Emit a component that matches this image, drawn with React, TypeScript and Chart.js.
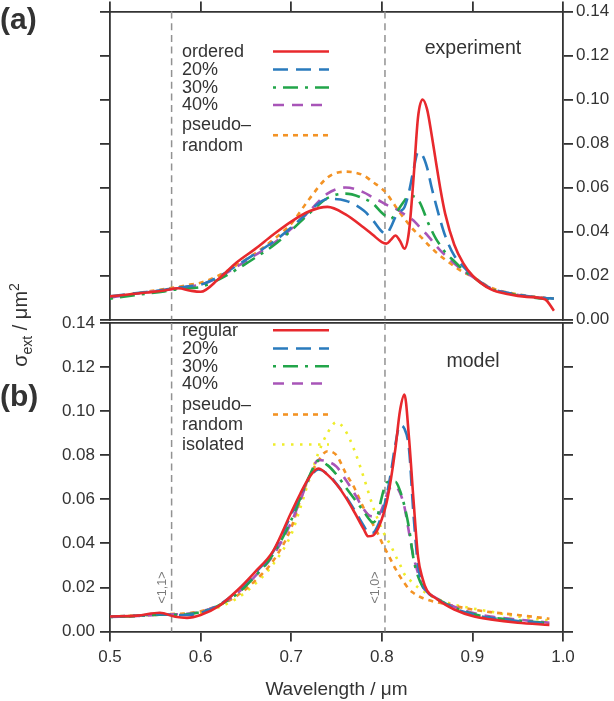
import React, { useEffect, useRef } from 'react';
import { Chart, registerables } from 'chart.js';

Chart.register(...registerables);

// ---------- data: panel (a) experiment ----------
const WL_TOP = [
  0.500, 0.530, 0.560, 0.575, 0.590, 0.600, 0.620, 0.640, 0.660, 0.680,
  0.700, 0.720, 0.740, 0.760, 0.780, 0.790, 0.800, 0.805, 0.810, 0.815,
  0.820, 0.825, 0.830, 0.835, 0.840, 0.845, 0.850, 0.855, 0.860, 0.865,
  0.870, 0.880, 0.890, 0.900, 0.920, 0.940, 0.960, 0.980, 0.990,
];
const EXP_ORDERED = [
  0.0105, 0.0118, 0.0132, 0.0142, 0.0130, 0.0126, 0.0185, 0.0260, 0.0320, 0.0385,
  0.0445, 0.0492, 0.0512, 0.0478, 0.0418, 0.0385, 0.0352, 0.0345, 0.0362, 0.0382,
  0.0358, 0.0322, 0.0400, 0.0640, 0.0920, 0.1000, 0.0955, 0.0840, 0.0710, 0.0585,
  0.0480, 0.0340, 0.0255, 0.0200, 0.0138, 0.0115, 0.0103, 0.0092, 0.0040,
];
const EXP_20 = [
  0.0105, 0.0120, 0.0135, 0.0145, 0.0152, 0.0158, 0.0195, 0.0245, 0.0298, 0.0352,
  0.0418, 0.0492, 0.0548, 0.0540, 0.0495, 0.0452, 0.0400, 0.0388, 0.0420, 0.0465,
  0.0490, 0.0510, 0.0580, 0.0680, 0.0760, 0.0745, 0.0690, 0.0600, 0.0520, 0.0445,
  0.0380, 0.0290, 0.0240, 0.0200, 0.0142, 0.0120, 0.0107, 0.0098, 0.0095,
];
const EXP_30 = [
  0.0095, 0.0112, 0.0128, 0.0138, 0.0143, 0.0148, 0.0182, 0.0228, 0.0280, 0.0335,
  0.0405, 0.0482, 0.0552, 0.0572, 0.0550, 0.0528, 0.0485, 0.0468, 0.0458, 0.0480,
  0.0510, 0.0540, 0.0563, 0.0560, 0.0545, 0.0505, 0.0450, 0.0405, 0.0365, 0.0335,
  0.0305, 0.0265, 0.0225, 0.0195, 0.0140, 0.0118, 0.0104, 0.0094, 0.0092,
];
const EXP_40 = [
  0.0100, 0.0118, 0.0133, 0.0142, 0.0152, 0.0158, 0.0192, 0.0240, 0.0292, 0.0345,
  0.0412, 0.0492, 0.0572, 0.0600, 0.0578, 0.0555, 0.0534, 0.0522, 0.0512, 0.0504,
  0.0492, 0.0478, 0.0465, 0.0450, 0.0428, 0.0405, 0.0385, 0.0360, 0.0335, 0.0312,
  0.0292, 0.0255, 0.0222, 0.0195, 0.0142, 0.0120, 0.0106, 0.0097, 0.0095,
];
const EXP_PSEUDO = [
  0.0100, 0.0120, 0.0138, 0.0148, 0.0160, 0.0167, 0.0200, 0.0248, 0.0300, 0.0362,
  0.0435, 0.0548, 0.0645, 0.0672, 0.0655, 0.0625, 0.0595, 0.0575, 0.0545, 0.0515,
  0.0485, 0.0458, 0.0432, 0.0408, 0.0388, 0.0368, 0.0345, 0.0325, 0.0305, 0.0288,
  0.0272, 0.0242, 0.0215, 0.0195, 0.0145, 0.0122, 0.0108, 0.0099, 0.0096,
];

// ---------- data: panel (b) model ----------
const WL_BOT = [
  0.500, 0.530, 0.555, 0.572, 0.585, 0.600, 0.620, 0.640, 0.660, 0.680,
  0.700, 0.710, 0.720, 0.730, 0.740, 0.750, 0.760, 0.770, 0.780, 0.785,
  0.790, 0.795, 0.800, 0.805, 0.810, 0.815, 0.820, 0.825, 0.830, 0.835,
  0.840, 0.845, 0.850, 0.860, 0.870, 0.880, 0.900, 0.920, 0.950, 0.985,
];
const MOD_REGULAR = [
  0.0068, 0.0072, 0.0085, 0.0067, 0.0062, 0.0075, 0.0115, 0.0185, 0.0270, 0.0365,
  0.0540, 0.0625, 0.0700, 0.0740, 0.0712, 0.0668, 0.0610, 0.0540, 0.0465, 0.0432,
  0.0435, 0.0460, 0.0510, 0.0580, 0.0690, 0.0830, 0.1000, 0.1075, 0.0880, 0.0596,
  0.0340, 0.0240, 0.0185, 0.0150, 0.0122, 0.0100, 0.0070, 0.0055, 0.0040, 0.0030,
];
const MOD_20 = [
  0.0068, 0.0072, 0.0078, 0.0075, 0.0075, 0.0085, 0.0120, 0.0182, 0.0265, 0.0362,
  0.0530, 0.0620, 0.0695, 0.0735, 0.0715, 0.0670, 0.0615, 0.0550, 0.0480, 0.0450,
  0.0448, 0.0475, 0.0530, 0.0610, 0.0720, 0.0850, 0.0935, 0.0920, 0.0830, 0.0530,
  0.0300, 0.0215, 0.0180, 0.0148, 0.0125, 0.0105, 0.0078, 0.0062, 0.0048, 0.0035,
];
const MOD_30 = [
  0.0066, 0.0070, 0.0076, 0.0076, 0.0078, 0.0088, 0.0118, 0.0170, 0.0250, 0.0350,
  0.0505, 0.0605, 0.0705, 0.0775, 0.0755, 0.0712, 0.0655, 0.0600, 0.0545, 0.0515,
  0.0495, 0.0520, 0.0610, 0.0675, 0.0680, 0.0680, 0.0640, 0.0570, 0.0470, 0.0330,
  0.0250, 0.0205, 0.0180, 0.0150, 0.0128, 0.0108, 0.0080, 0.0064, 0.0050, 0.0038,
];
const MOD_40 = [
  0.0066, 0.0070, 0.0076, 0.0078, 0.0080, 0.0090, 0.0120, 0.0172, 0.0250, 0.0345,
  0.0495, 0.0595, 0.0700, 0.0778, 0.0772, 0.0748, 0.0690, 0.0625, 0.0555, 0.0530,
  0.0522, 0.0522, 0.0555, 0.0615, 0.0655, 0.0658, 0.0630, 0.0565, 0.0450, 0.0340,
  0.0265, 0.0205, 0.0180, 0.0152, 0.0130, 0.0112, 0.0085, 0.0068, 0.0054, 0.0040,
];
const MOD_PSEUDO = [
  0.0068, 0.0072, 0.0078, 0.0080, 0.0082, 0.0092, 0.0118, 0.0162, 0.0230, 0.0320,
  0.0470, 0.0596, 0.0700, 0.0775, 0.0818, 0.0800, 0.0720, 0.0650, 0.0560, 0.0525,
  0.0488, 0.0450, 0.0405, 0.0365, 0.0325, 0.0285, 0.0250, 0.0220, 0.0192, 0.0175,
  0.0162, 0.0152, 0.0145, 0.0133, 0.0125, 0.0116, 0.0100, 0.0088, 0.0075, 0.0058,
];
const MOD_ISOLATED = [
  0.0068, 0.0072, 0.0076, 0.0078, 0.0080, 0.0085, 0.0110, 0.0150, 0.0215, 0.0305,
  0.0440, 0.0560, 0.0690, 0.0810, 0.0900, 0.0950, 0.0910, 0.0820, 0.0700, 0.0635,
  0.0570, 0.0515, 0.0465, 0.0425, 0.0390, 0.0345, 0.0305, 0.0260, 0.0238, 0.0218,
  0.0200, 0.0185, 0.0172, 0.0150, 0.0135, 0.0122, 0.0105, 0.0090, 0.0068, 0.0050,
];

// ---------- labels / axis ----------
const LEGEND_TOP = ['ordered', '20%', '30%', '40%', 'pseudo–\nrandom'];
const LEGEND_BOT = ['regular', '20%', '30%', '40%', 'pseudo–\nrandom', 'isolated'];
const X_RANGE = [0.5, 1.0];
const Y_RANGE = [0, 0.14];
const X_STEP = 0.1;
const Y_STEP = 0.02;
const MODE_WL = [0.568, 0.8035];
const MODE_LABELS = ['<1,1>', '<1,0>'];
const X_TITLE = 'Wavelength / μm';

// ---------- styles ----------
const FONT = '"Liberation Sans", Arial, Helvetica, sans-serif';
const AXIS = '#333333';
const TEXT = '#333333';
const S_RED = { color: '#e8292d', dash: [] as number[] };
const S_BLUE = { color: '#2a7bbd', dash: [15, 8] };
const S_GREEN = { color: '#22a54a', dash: [3, 7, 15, 7] };
const S_PURPLE = { color: '#a855b8', dash: [11, 8] };
const S_ORANGE = { color: '#f39325', dash: [5, 5] };
const S_YELLOW = { color: '#eeed2a', dash: [2.5, 6.5] };

function mkDataset(label: string, xs: number[], ys: number[], st: any) {
  return {
    label,
    data: xs.map((x, i) => ({ x, y: ys[i] })),
    borderColor: st.color,
    backgroundColor: st.color,
    borderDash: st.dash,
    borderWidth: 2.6,
    borderCapStyle: 'butt',
    pointRadius: 0,
    fill: false,
    cubicInterpolationMode: 'monotone',
  };
}

const tickGrid = {
  display: true,
  drawOnChartArea: false,
  drawTicks: true,
  tickLength: 10,
  color: AXIS,
  lineWidth: 1.8,
};
const noTickGrid = { display: true, drawOnChartArea: false, drawTicks: false, color: AXIS, lineWidth: 1.8 };
const borderOpt = { display: true, color: AXIS, width: 1.8 };

function drawModeLines(chart: any, withLabels: boolean) {
  const { ctx, chartArea } = chart;
  const xs = chart.scales.x;
  ctx.save();
  ctx.strokeStyle = '#929292';
  ctx.lineWidth = 1.5;
  MODE_WL.forEach((w, i) => {
    const px = xs.getPixelForValue(w);
    ctx.setLineDash([7, 4.7]);
    ctx.beginPath();
    ctx.moveTo(px, chartArea.top);
    ctx.lineTo(px, chartArea.bottom);
    ctx.stroke();
    if (withLabels) {
      ctx.save();
      ctx.setLineDash([]);
      ctx.translate(px - 3, chartArea.bottom - 44);
      ctx.rotate(-Math.PI / 2);
      ctx.fillStyle = '#7a7a7a';
      ctx.font = `12.5px ${FONT}`;
      ctx.textAlign = 'center';
      ctx.textBaseline = 'bottom';
      ctx.fillText(MODE_LABELS[i], 0, 0);
      ctx.restore();
    }
  });
  ctx.restore();
}

function drawLegend(chart: any, ys: number[], gap: number) {
  const ctx = chart.ctx;
  ctx.save();
  chart.data.datasets.forEach((ds: any, i: number) => {
    const lines = String(ds.label).split('\n');
    const y0 = ys[i];
    ctx.fillStyle = TEXT;
    ctx.font = `18px ${FONT}`;
    ctx.textAlign = 'left';
    ctx.textBaseline = 'middle';
    lines.forEach((t: string, k: number) => ctx.fillText(t, 182, y0 + k * gap));
    const ly = y0 + ((lines.length - 1) * gap) / 2 - 0.5;
    ctx.strokeStyle = ds.borderColor;
    ctx.lineWidth = 2.6;
    ctx.lineCap = 'butt';
    ctx.setLineDash(ds.borderDash || []);
    ctx.beginPath();
    ctx.moveTo(273, ly);
    ctx.lineTo(329, ly);
    ctx.stroke();
  });
  ctx.restore();
}

function drawText(ctx: any, t: string, x: number, y: number, font: string, align: string) {
  ctx.save();
  ctx.fillStyle = TEXT;
  ctx.font = font;
  ctx.textAlign = align;
  ctx.textBaseline = 'middle';
  ctx.fillText(t, x, y);
  ctx.restore();
}

const topDecor = {
  id: 'topDecor',
  beforeDatasetsDraw(chart: any) {
    drawModeLines(chart, false);
  },
  afterDraw(chart: any) {
    const ctx = chart.ctx;
    drawLegend(chart, [52, 70, 88, 105.5, 125], 21.5);
    drawText(ctx, 'experiment', 473, 49, `19.5px ${FONT}`, 'center');
    drawText(ctx, '(a)', 0, 21, `bold 30px ${FONT}`, 'left');
  },
};

const botDecor = {
  id: 'botDecor',
  beforeDatasetsDraw(chart: any) {
    drawModeLines(chart, true);
  },
  afterDraw(chart: any) {
    const ctx = chart.ctx;
    drawLegend(chart, [330.7, 349, 366.7, 384, 405, 445], 20);
    drawText(ctx, 'model', 473, 362, `19.5px ${FONT}`, 'center');
    drawText(ctx, '(b)', 0, 398, `bold 30px ${FONT}`, 'left');
    // y title (rotated)
    ctx.save();
    ctx.translate(27, 325);
    ctx.rotate(-Math.PI / 2);
    ctx.fillStyle = TEXT;
    ctx.textAlign = 'left';
    ctx.textBaseline = 'alphabetic';
    const big = `20px ${FONT}`;
    const small = `14px ${FONT}`;
    const parts = [
      { t: 'σ', f: big, dy: 0 },
      { t: 'ext', f: small, dy: 5 },
      { t: ' / μm', f: big, dy: 0 },
      { t: '2', f: small, dy: -8 },
    ];
    let total = 0;
    parts.forEach((p) => {
      ctx.font = p.f;
      total += ctx.measureText(p.t).width;
    });
    let x = -total / 2;
    parts.forEach((p) => {
      ctx.font = p.f;
      ctx.fillText(p.t, x, p.dy);
      x += ctx.measureText(p.t).width;
    });
    ctx.restore();
  },
};

function topConfig(): any {
  return {
    type: 'line',
    data: {
      datasets: [
        mkDataset(LEGEND_TOP[0], WL_TOP, EXP_ORDERED, S_RED),
        mkDataset(LEGEND_TOP[1], WL_TOP, EXP_20, S_BLUE),
        mkDataset(LEGEND_TOP[2], WL_TOP, EXP_30, S_GREEN),
        mkDataset(LEGEND_TOP[3], WL_TOP, EXP_40, S_PURPLE),
        mkDataset(LEGEND_TOP[4], WL_TOP, EXP_PSEUDO, S_ORANGE),
      ],
    },
    options: {
      responsive: false,
      animation: false,
      events: [],
      layout: { padding: { left: 100, right: 0, top: 0, bottom: 701 - 319.5 } },
      plugins: { legend: { display: false }, tooltip: { enabled: false }, title: { display: false } },
      scales: {
        x: {
          type: 'linear', position: 'top', min: X_RANGE[0], max: X_RANGE[1],
          ticks: { display: false, stepSize: X_STEP },
          grid: tickGrid, border: borderOpt,
          afterFit: (s: any) => { s.height = 10.5; },
        },
        xb: {
          type: 'linear', position: 'bottom', min: X_RANGE[0], max: X_RANGE[1],
          ticks: { display: false, stepSize: X_STEP },
          grid: noTickGrid, border: borderOpt,
          afterFit: (s: any) => { s.height = 0; },
        },
        yl: {
          type: 'linear', position: 'left', min: Y_RANGE[0], max: Y_RANGE[1],
          ticks: { display: false, stepSize: Y_STEP },
          grid: tickGrid, border: borderOpt,
          afterFit: (s: any) => { s.width = 10; },
        },
        y: {
          type: 'linear', position: 'right', min: Y_RANGE[0], max: Y_RANGE[1],
          ticks: {
            stepSize: Y_STEP, color: TEXT, padding: 3,
            font: { family: FONT, size: 17, lineHeight: 1 },
            callback: (v: any) => Number(v).toFixed(2),
          },
          grid: tickGrid, border: borderOpt,
          afterFit: (s: any) => { s.width = 51; },
        },
      },
    },
    plugins: [topDecor],
  };
}

function botConfig(): any {
  return {
    type: 'line',
    data: {
      datasets: [
        mkDataset(LEGEND_BOT[0], WL_BOT, MOD_REGULAR, S_RED),
        mkDataset(LEGEND_BOT[1], WL_BOT, MOD_20, S_BLUE),
        mkDataset(LEGEND_BOT[2], WL_BOT, MOD_30, S_GREEN),
        mkDataset(LEGEND_BOT[3], WL_BOT, MOD_40, S_PURPLE),
        mkDataset(LEGEND_BOT[4], WL_BOT, MOD_PSEUDO, S_ORANGE),
        mkDataset(LEGEND_BOT[5], WL_BOT, MOD_ISOLATED, S_YELLOW),
      ],
    },
    options: {
      responsive: false,
      animation: false,
      events: [],
      layout: { padding: { left: 0, right: 41, top: 323, bottom: 0 } },
      plugins: { legend: { display: false }, tooltip: { enabled: false }, title: { display: false } },
      scales: {
        x: {
          type: 'linear', position: 'bottom', min: X_RANGE[0], max: X_RANGE[1],
          ticks: {
            stepSize: X_STEP, color: TEXT, padding: 6,
            font: { family: FONT, size: 17 },
            callback: (v: any) => Number(v).toFixed(1),
          },
          grid: tickGrid, border: borderOpt,
          title: {
            display: true, text: X_TITLE, color: TEXT,
            font: { family: FONT, size: 19 }, padding: { top: 0, bottom: 0 },
          },
          afterFit: (s: any) => { s.height = 69.5; },
        },
        xt: {
          type: 'linear', position: 'top', min: X_RANGE[0], max: X_RANGE[1],
          ticks: { display: false, stepSize: X_STEP },
          grid: noTickGrid, border: borderOpt,
          afterFit: (s: any) => { s.height = 0; },
        },
        y: {
          type: 'linear', position: 'left', min: Y_RANGE[0], max: Y_RANGE[1],
          ticks: {
            stepSize: Y_STEP, color: TEXT, padding: 5,
            font: { family: FONT, size: 17, lineHeight: 1 },
            callback: (v: any) => Number(v).toFixed(2),
          },
          grid: tickGrid, border: borderOpt,
          afterFit: (s: any) => { s.width = 110; },
        },
        yr: {
          type: 'linear', position: 'right', min: Y_RANGE[0], max: Y_RANGE[1],
          ticks: { display: false, stepSize: Y_STEP },
          grid: tickGrid, border: borderOpt,
          afterFit: (s: any) => { s.width = 10; },
        },
      },
    },
    plugins: [botDecor],
  };
}

export default function App() {
  const topRef = useRef<HTMLCanvasElement>(null);
  const botRef = useRef<HTMLCanvasElement>(null);
  useEffect(() => {
    const a = new Chart(topRef.current as HTMLCanvasElement, topConfig());
    const b = new Chart(botRef.current as HTMLCanvasElement, botConfig());
    return () => {
      a.destroy();
      b.destroy();
    };
  }, []);
  return (
    <div style={{ position: 'absolute', left: 0, top: 0, width: 614, height: 701, background: '#ffffff' }}>
      <canvas ref={topRef} width={614} height={701} style={{ position: 'absolute', left: 0, top: 0 }} />
      <canvas ref={botRef} width={614} height={701} style={{ position: 'absolute', left: 0, top: 0 }} />
    </div>
  );
}
